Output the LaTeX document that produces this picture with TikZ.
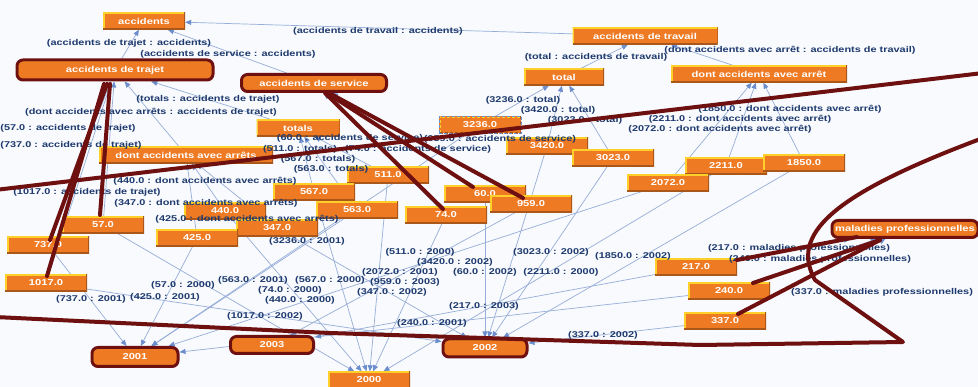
\documentclass[tikz,border=0pt]{standalone}
\usepackage{fontspec}
\setmainfont{Liberation Sans}[FakeStretch=1.3]
\usetikzlibrary{arrows.meta,backgrounds}
\definecolor{nodeorange}{HTML}{EE7A24}
\definecolor{nodeyellow}{HTML}{FFD02A}
\definecolor{nodeshadow}{HTML}{A9571A}
\definecolor{edgeblue}{HTML}{97AED8}
\definecolor{tipblue}{HTML}{6C8DCB}
\definecolor{lblnavy}{HTML}{1E3A6E}
\definecolor{annot}{HTML}{6E1010}
\definecolor{paper}{HTML}{F8FAFD}
\tikzset{
  box/.style={rectangle, fill=nodeorange, text=white, inner sep=0pt,
    font=\fontsize{8.6}{9}\selectfont\bfseries,
    minimum width=82pt, minimum height=17pt,
    path picture={
      \draw[nodeyellow, line width=3pt] (path picture bounding box.south west)
        -- (path picture bounding box.north west) -- (path picture bounding box.north east);
      \draw[nodeshadow, line width=2pt] (path picture bounding box.north east)
        -- (path picture bounding box.south east) -- (path picture bounding box.south west);}},
  hl/.style={draw=annot, line width=3pt, rounded corners=6pt},
  lbl/.style={text=lblnavy, inner sep=0pt, font=\fontsize{8.4}{9}\selectfont\bfseries},
  link/.style={draw=edgeblue, line width=0.7pt, -{Triangle[length=6pt,width=5pt,color=tipblue]}},
  stroke/.style={draw=annot, line width=4pt, line cap=round, line join=round},
}
\begin{document}
\begin{tikzpicture}[x=1pt,y=-1pt]
  \useasboundingbox (0,0) rectangle (978,387);
  \clip (0,0) rectangle (978,387);

  % category nodes
  \node[box] (acc) at (144,21) {accidents};
  \node[box,hl,minimum width=196pt,minimum height=20pt] (traj) at (115,70) {accidents de trajet};
  \node[box,hl,minimum width=145pt] (serv) at (314,83) {accidents de service};
  \node[box,minimum width=145pt] (trav) at (645,36) {accidents de travail};
  \node[box,minimum width=80pt] (tot) at (564,77) {total};
  \node[box,minimum width=176pt] (arret) at (759,74) {dont accidents avec arrêt};
  \node[box,minimum width=83pt] (tls) at (298,128) {totals};
  \node[box,minimum width=174pt] (arrets) at (186,155) {dont accidents avec arrêts};
  \node[box,hl,minimum width=146pt] (mal) at (905,229) {maladies professionnelles};

  % value nodes
  \foreach \n/\x/\y in {3420/547/146, 3023/613/158, 2211/726/166, 1850/804/163,
      2072/668/183, 511/388/175, 567/314/192, 60/485/194, 959/531/204, 563/357/210,
      74/446/215, 440/225/211, 347/277/228, 57/103/225, 425/197/238, 737/48/245,
      1017/46/283, 217/696/267, 240/729/291, 337/725/321}
    \node[box] (v\n) at (\x,\y) {\n.0};
  \node[box,draw=tipblue,densely dashed,thin] (v3236) at (480,125) {3236.0};

  % year nodes
  \node[box,hl,minimum width=86pt,minimum height=19pt] (y2001) at (135,357) {2001};
  \node[box,hl,minimum width=83pt,minimum height=17pt] (y2003) at (272,345) {2003};
  \node[box,hl,minimum width=84pt,minimum height=18pt] (y2002) at (485,348) {2002};
  \node[box] (y2000) at (369,380) {2000};

  \begin{scope}[on background layer]
    \fill[paper] (0,0) rectangle (978,387);
    \foreach \a/\b in {traj/acc, serv/acc, trav/acc, tot/trav, arret/trav,
        tls/traj, arrets/traj, v57/traj, v737/traj, v1017/traj,
        v440/arrets, v347/arrets, v425/arrets, v567/tls, v563/tls, v511/tls,
        v74/serv, v60/serv, v959/serv, v3236/tot, v3420/tot, v3023/tot,
        v2211/arret, v1850/arret, v2072/arret, v217/mal, v240/mal, v337/mal,
        v737/y2001, v425/y2001, v563/y2001, v3236/y2001, v2072/y2001, v240/y2001,
        v57/y2000, v74/y2000, v567/y2000, v440/y2000, v511/y2000, v2211/y2000,
        v347/y2002, v1017/y2002, v3420/y2002, v60/y2002, v3023/y2002, v1850/y2002, v337/y2002,
        v959/y2003, v217/y2003}
      \draw[link] (\a) -- (\b);
  \end{scope}

  % edge labels
  \foreach \x/\y/\t [count=\i] in {
      129/43/(accidents de trajet : accidents), 228/54/(accidents de service : accidents),
      378/31/(accidents de travail : accidents), 596/57/(total : accidents de travail),
      790/50/(dont accidents avec arrêt : accidents de travail),
      208/99/(totals : accidents de trajet), 151/112/(dont accidents avec arrêts : accidents de trajet),
      68/128/(57.0 : accidents de trajet), 71/145/(737.0 : accidents de trajet),
      87/192/(1017.0 : accidents de trajet),
      205/181/(440.0 : dont accidents avec arrêts), 206/203/(347.0 : dont accidents avec arrêts),
      247/219.5/(425.0 : dont accidents avec arrêts),
      318/159/(567.0 : totals), 331/169/(563.0 : totals), 300/149/(511.0 : totals),
      418/149/(74.0 : accidents de service), 350/138/(60.0 : accidents de service),
      500/139/(959.0 : accidents de service),
      523/100/(3236.0 : total), 558/110/(3420.0 : total), 585/120/(3023.0 : total),
      740/119/(2211.0 : dont accidents avec arrêt), 790/109/(1850.0 : dont accidents avec arrêt),
      720/129/(2072.0 : dont accidents avec arrêt),
      799/248/(217.0 : maladies professionnelles), 820/259/(240.0 : maladies professionnelles),
      882/292/(337.0 : maladies professionnelles),
      91/299/(737.0 : 2001), 165/297/(425.0 : 2001), 183/285/(57.0 : 2000), 253/280/(563.0 : 2001),
      290/290/(74.0 : 2000), 330/280/(567.0 : 2000), 392/292/(347.0 : 2002), 300/300/(440.0 : 2000),
      265/316/(1017.0 : 2002), 307/241/(3236.0 : 2001), 420/252/(511.0 : 2000),
      455/262/(3420.0 : 2002), 400/272/(2072.0 : 2001), 405/282/(959.0 : 2003),
      485/272/(60.0 : 2002), 551/252/(3023.0 : 2002), 561/272/(2211.0 : 2000),
      633/256/(1850.0 : 2002), 484/306/(217.0 : 2003), 432/323/(240.0 : 2001),
      603/335/(337.0 : 2002)}
    \node[lbl] (lab\i) at (\x,\y) {\t};

  % hand-drawn marks
  \draw[stroke] (110,84) -- (100,215);
  \draw[stroke] (107,84) -- (50,240);
  \draw[stroke] (104,84) -- (47,276);
  \draw[stroke] (325,93) -- (443,209);
  \draw[stroke] (327,93) -- (473,187);
  \draw[stroke] (329,93) -- (523,198);
  \draw[stroke] (857,237) -- (737,260);
  \draw[stroke] (880,240) -- (753,283);
  \draw[stroke] (880,240) -- (738,314);
  \draw[stroke] (-5,190) -- (983,73);
  \draw[stroke] (-5,317) -- (330,333) -- (700,345) -- (903,342) -- (815,280)
    .. controls (790,235) and (830,195) .. (983,138);
\end{tikzpicture}
\end{document}
